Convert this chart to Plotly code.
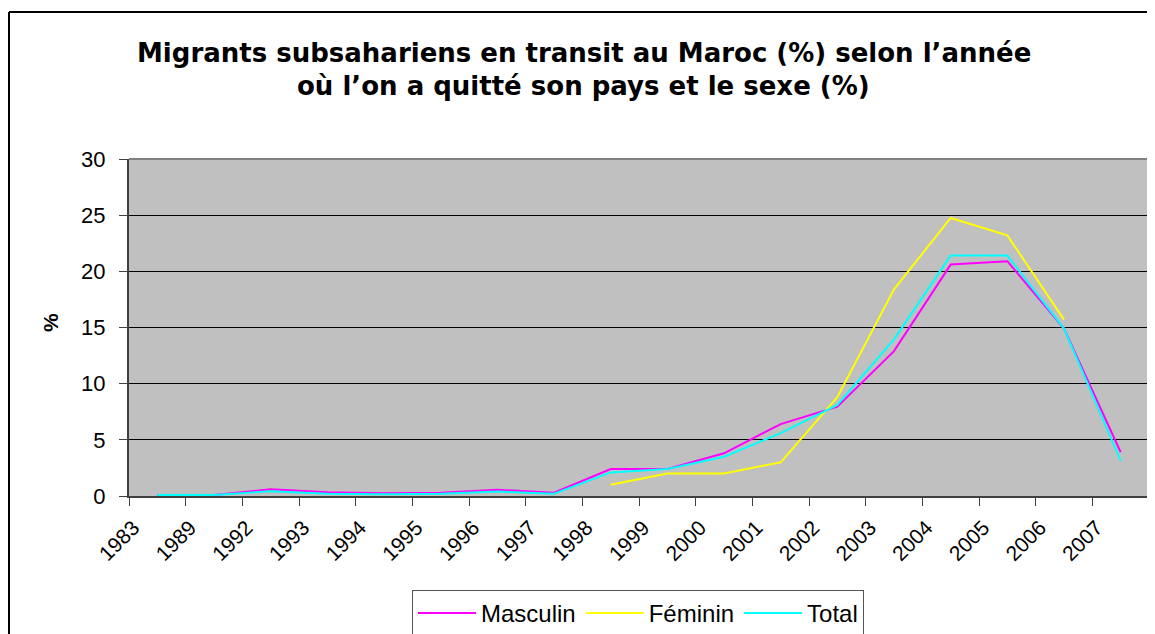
import plotly.graph_objects as go

years = ["1983", "1989", "1992", "1993", "1994", "1995", "1996", "1997", "1998",
         "1999", "2000", "2001", "2002", "2003", "2004", "2005", "2006", "2007"]
masculin = [0.1, 0.1, 0.6, 0.33, 0.25, 0.3, 0.55, 0.3, 2.4, 2.4, 3.8, 6.4, 7.95,
            12.9, 20.6, 20.9, 14.9, 3.9]
feminin = [None, None, None, None, None, None, None, None, 1.0, 2.0, 2.0, 3.0, 8.8,
           18.4, 24.75, 23.2, 15.7, None]
total = [0.1, 0.1, 0.42, 0.2, 0.15, 0.2, 0.4, 0.2, 2.1, 2.4, 3.5, 5.6, 8.1,
         13.95, 21.4, 21.4, 14.9, 3.15]

OFF = 8  # page body margin
W, H = 1155 - OFF, 634 - OFF
# plot area in screen pixels: x 129..1149, y 159..496
SL, SR, ST, SB = 129, 1149, 159, 496
L, T = SL - OFF, ST - OFF
R = W - (SR - OFF)
B = H - (SB - OFF)
PW, PH = SR - SL, SB - ST

def px(x):
    return (x - SL) / PW

def py(y):
    return (SB - y) / PH

FONT = "Liberation Sans, Arial, sans-serif"
TFONT = "DejaVu Sans, Liberation Sans, sans-serif"

fig = go.Figure()
fig.add_trace(go.Scatter(x=years, y=masculin, name="Masculin", mode="lines",
                         line=dict(color="#FF00FF", width=2)))
fig.add_trace(go.Scatter(x=years, y=feminin, name="Féminin", mode="lines",
                         line=dict(color="#FFFF00", width=2)))
fig.add_trace(go.Scatter(x=years, y=total, name="Total", mode="lines",
                         line=dict(color="#00FFFF", width=2)))

fig.update_layout(
    width=W, height=H,
    margin=dict(l=L, r=R, t=T, b=B, autoexpand=False),
    paper_bgcolor="white",
    plot_bgcolor="#C0C0C0",
    font=dict(family=FONT, size=20, color="black"),
    showlegend=True,
    legend=dict(orientation="h", x=px(638), xanchor="center", y=py(590), yanchor="top",
                bordercolor="#555555", borderwidth=1, bgcolor="white",
                font=dict(size=24), itemwidth=58, tracegroupgap=0),
    xaxis=dict(type="category", range=[-0.5, 17.5], tickson="boundaries",
               ticks="outside", ticklen=8, tickcolor="#404040", tickwidth=1,
               tickangle=-45, showgrid=False, showline=True, linecolor="#404040",
               linewidth=2, mirror=False, ticklabelshift=-24, ticklabelstandoff=9,
               tickfont=dict(size=21), automargin=False),
    yaxis=dict(range=[0, 30], dtick=5, ticks="outside", ticklen=8, tickcolor="#404040",
               showgrid=True, gridcolor="black", gridwidth=1, showline=True,
               linecolor="#404040", linewidth=2, zeroline=False,
               tickfont=dict(size=22), ticklabelstandoff=9, automargin=False),
)

# plot area frame (top/right in gray)
fig.add_shape(type="line", xref="paper", yref="paper", x0=0, x1=1, y0=1, y1=1,
              line=dict(color="#808080", width=2))
fig.add_shape(type="line", xref="paper", yref="paper", x0=1, x1=1, y0=0, y1=1,
              line=dict(color="#808080", width=2))
# outer chart border: only top and left edges are inside the page
fig.add_shape(type="line", xref="paper", yref="paper", x0=px(9), x1=px(1300),
              y0=py(12), y1=py(12), line=dict(color="black", width=2), layer="below")
fig.add_shape(type="line", xref="paper", yref="paper", x0=px(9), x1=px(9),
              y0=py(12), y1=py(700), line=dict(color="black", width=2), layer="below")

fig.add_annotation(text="<b>Migrants subsahariens en transit au Maroc (%) selon l’année</b>",
                   xref="paper", yref="paper", x=px(584), y=py(53), xanchor="center",
                   yanchor="middle", showarrow=False, font=dict(size=26, family=TFONT))
fig.add_annotation(text="<b>où l’on a quitté son pays et le sexe (%)</b>",
                   xref="paper", yref="paper", x=px(583), y=py(86), xanchor="center",
                   yanchor="middle", showarrow=False, font=dict(size=26, family=TFONT))
fig.add_annotation(text="<b>%</b>", xref="paper", yref="paper", x=px(50), y=py(323),
                   xanchor="center", yanchor="middle", textangle=-90, showarrow=False,
                   font=dict(size=21, family=FONT))

fig.write_html("out.html")
